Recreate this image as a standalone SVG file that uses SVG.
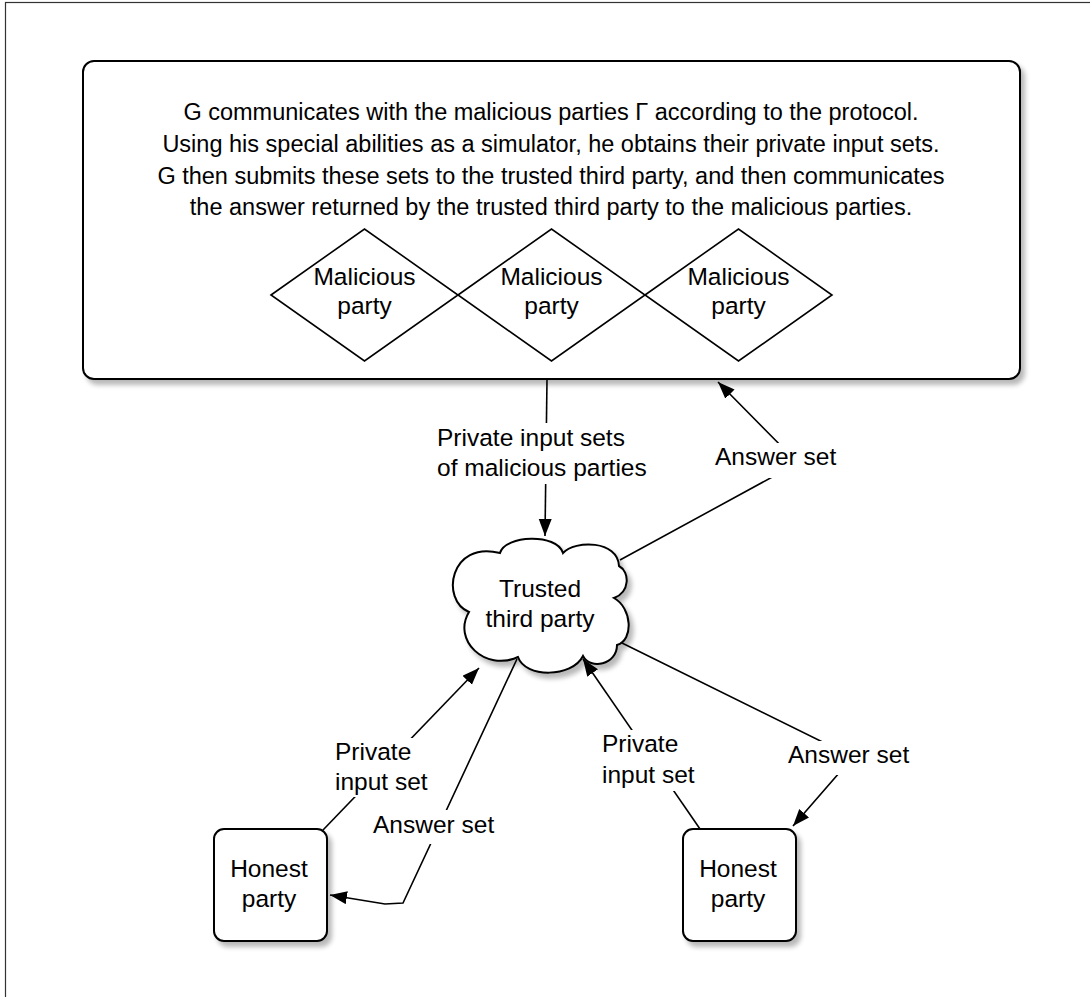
<svg xmlns="http://www.w3.org/2000/svg" width="1090" height="997" viewBox="0 0 1090 997">
<style>
text{font-family:"Liberation Sans",Arial,Helvetica,sans-serif;fill:#000}
.big{font-size:23.5px;text-anchor:middle}
.c{font-size:24.5px;text-anchor:middle}
.l{font-size:24.5px;text-anchor:start}
.edge{fill:none;stroke:#000;stroke-width:1.6}
.box{fill:#fff;stroke:#000;stroke-width:2}
.dia{fill:#fff;stroke:#000;stroke-width:1.6}
.bg{fill:#fff;stroke:none}
</style>
<defs>
<filter id="sh" x="-10%" y="-10%" width="130%" height="130%">
<feGaussianBlur in="SourceAlpha" stdDeviation="2.5"/>
<feOffset dx="4" dy="5" result="b"/>
<feComponentTransfer><feFuncA type="linear" slope="0.28"/></feComponentTransfer>
<feMerge><feMergeNode/><feMergeNode in="SourceGraphic"/></feMerge>
</filter>
<marker id="arr" markerUnits="userSpaceOnUse" markerWidth="18" markerHeight="14" refX="17" refY="6.5" orient="auto">
<path d="M0,0 L17,6.5 L0,13 Z" fill="#000"/>
</marker>
</defs>
<rect width="1090" height="997" fill="#fff"/>
<rect x="5.5" y="2.5" width="1200" height="1200" fill="none" stroke="#333" stroke-width="1.2"/>

<g id="simulator">
<rect class="box" x="83" y="61" width="937" height="318" rx="11" filter="url(#sh)"/>
<text class="big" x="551" y="120">G communicates with the malicious parties Γ according to the protocol.</text>
<text class="big" x="551" y="152">Using his special abilities as a simulator, he obtains their private input sets.</text>
<text class="big" x="551" y="184">G then submits these sets to the trusted third party, and then communicates</text>
<text class="big" x="551" y="215">the answer returned by the trusted third party to the malicious parties.</text>
</g>
<g id="malicious1">
<polygon class="dia" points="271,295 364.5,229 458,295 364.5,361"/>
<text class="c" x="364.5" y="285">Malicious</text>
<text class="c" x="364.5" y="314">party</text>
</g>
<g id="malicious2">
<polygon class="dia" points="458,295 551.5,229 645,295 551.5,361"/>
<text class="c" x="551.5" y="285">Malicious</text>
<text class="c" x="551.5" y="314">party</text>
</g>
<g id="malicious3">
<polygon class="dia" points="645,295 738.5,229 832,295 738.5,361"/>
<text class="c" x="738.5" y="285">Malicious</text>
<text class="c" x="738.5" y="314">party</text>
</g>

<g id="connectors">
<path class="edge" d="M547,379 L545,536" marker-end="url(#arr)"/>
<path class="edge" d="M620,560 L798,463 L718,382" marker-end="url(#arr)"/>
<path class="edge" d="M323,830 L479,668" marker-end="url(#arr)"/>
<path class="edge" d="M517,659 L403,903 L385,904 L330,895" marker-end="url(#arr)"/>
<path class="edge" d="M700,829 L583,659" marker-end="url(#arr)"/>
<path class="edge" d="M622,643 L853,757 L793,826" marker-end="url(#arr)"/>
</g>

<g id="labels">
<rect class="bg" x="433" y="423" width="222" height="61"/>
<text class="l" x="437" y="446">Private input sets</text>
<text class="l" x="437" y="476">of malicious parties</text>
<rect class="bg" x="711" y="443" width="127" height="35"/>
<text class="l" x="715" y="465">Answer set</text>
<rect class="bg" x="331" y="738" width="102" height="59"/>
<text class="l" x="335" y="760">Private</text>
<text class="l" x="335" y="790">input set</text>
<rect class="bg" x="369" y="810" width="127" height="34"/>
<text class="l" x="373" y="833">Answer set</text>
<rect class="bg" x="598" y="730" width="100" height="61"/>
<text class="l" x="602" y="752">Private</text>
<text class="l" x="602" y="783">input set</text>
<rect class="bg" x="784" y="741" width="129" height="34"/>
<text class="l" x="788" y="763">Answer set</text>
</g>

<g id="ttp">
<path class="box" filter="url(#sh)" d="M500,553 C505,535 557,533 563,553 C575,540 618,540 619,566 C630,572 630,592 614,598 C632,608 634,640 617,645 C617,665 590,670 583,656 C572,678 525,678 518,657 C485,672 452,640 469,612 C440,600 450,540 500,553 Z"/>
<text class="c" x="540" y="597">Trusted</text>
<text class="c" x="540" y="627">third party</text>
</g>

<g id="honest1">
<rect class="box" x="214" y="829" width="113" height="112" rx="10" filter="url(#sh)"/>
<text class="c" x="269" y="877">Honest</text>
<text class="c" x="269" y="907">party</text>
</g>
<g id="honest2">
<rect class="box" x="683" y="829" width="113" height="112" rx="10" filter="url(#sh)"/>
<text class="c" x="738" y="877">Honest</text>
<text class="c" x="738" y="907">party</text>
</g>
</svg>
